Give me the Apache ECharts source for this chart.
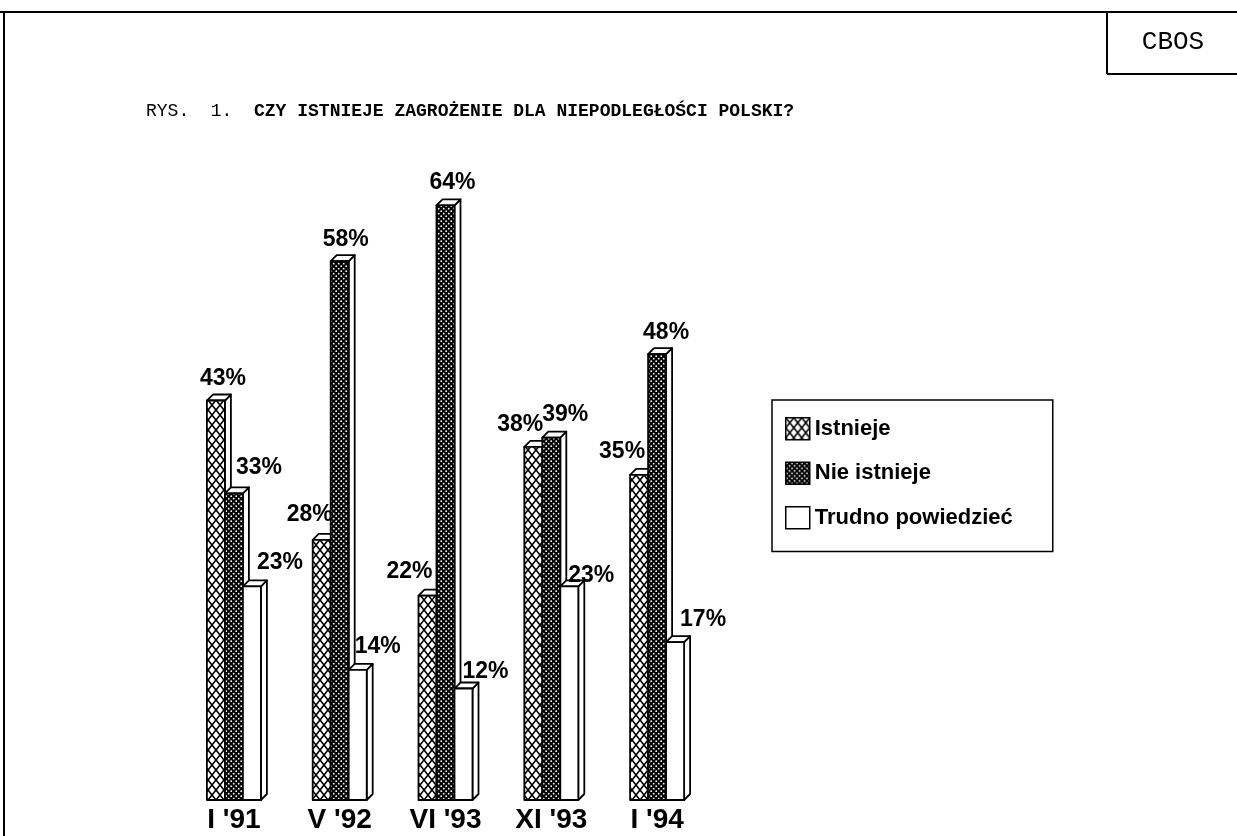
<!DOCTYPE html>
<html>
<head>
<meta charset="utf-8">
<title>Czy istnieje zagrożenie dla niepodległości Polski?</title>
<script src="https://cdn.jsdelivr.net/npm/echarts@6/dist/echarts.min.js"></script>
<style>
  html, body { margin: 0; padding: 0; background: #fff; }
  #chart { width: 1237px; height: 836px; }
</style>
</head>
<body>
<div id="chart"></div>
<script>
// data (percent)
const categories = ["I '91", "V '92", "VI '93", "XI '93", "I '94"];
const seriesNames = ["Istnieje", "Nie istnieje", "Trudno powiedzieć"];
const istnieje = [43, 28, 22, 38, 35];
const nieIstnieje = [33, 58, 64, 39, 48];
const trudno = [23, 14, 12, 23, 17];

const SANS = '"Liberation Sans", Arial, sans-serif';
const MONO = '"Liberation Mono", "Courier New", monospace';
const BAR_W = 18;
const DEPTH = 6;

// where each value label sits, relative to the front-top centre of its bar
const labelNudge = [
  [[7, -22], [-12, -25], [-18, -24], [-13, -22], [-17, -23]],
  [[25, -26], [6, -22], [7, -23], [14, -23], [9, -21]],
  [[28, -24], [20, -23], [22, -17], [22, -11], [28, -22]]
];

function makePattern(kind) {
  const c = document.createElement("canvas");
  const ctx = c.getContext("2d");
  if (kind === "cross") {
    c.width = 8; c.height = 10;
    ctx.fillStyle = "#fff";
    ctx.fillRect(0, 0, 8, 10);
    ctx.strokeStyle = "#000";
    ctx.lineWidth = 1.6;
    ctx.beginPath();
    ctx.moveTo(0, 0); ctx.lineTo(8, 10);
    ctx.moveTo(8, 0); ctx.lineTo(0, 10);
    ctx.stroke();
  } else if (kind === "dots") {
    c.width = 5; c.height = 5;
    ctx.fillStyle = "#000";
    ctx.fillRect(0, 0, 5, 5);
    ctx.fillStyle = "#fff";
    ctx.beginPath();
    ctx.arc(1.2, 1.2, 0.9, 0, Math.PI * 2);
    ctx.arc(3.7, 3.7, 0.9, 0, Math.PI * 2);
    ctx.fill();
  } else {
    c.width = 2; c.height = 2;
    ctx.fillStyle = "#fff";
    ctx.fillRect(0, 0, 2, 2);
  }
  return { image: c, repeat: "repeat" };
}

const fills = [makePattern("cross"), makePattern("dots"), "#fff"];

function barRenderer(s) {
  return function (params, api) {
    const v = api.value(1);
    const base = api.coord([api.value(0), 0]);
    const top = api.coord([api.value(0), v]);
    const x = base[0] - 27 + s * BAR_W;
    const y0 = base[1];
    const y1 = top[1];
    const edge = { stroke: "#000", lineWidth: 1.8, lineJoin: "round" };
    const nudge = labelNudge[s][params.dataIndex];
    return {
      type: "group",
      children: [
        {
          type: "polygon",
          shape: { points: [[x + BAR_W, y1], [x + BAR_W + DEPTH, y1 - DEPTH], [x + BAR_W + DEPTH, y0 - DEPTH], [x + BAR_W, y0]] },
          style: Object.assign({ fill: "#fff" }, edge)
        },
        {
          type: "polygon",
          shape: { points: [[x, y1], [x + DEPTH, y1 - DEPTH], [x + BAR_W + DEPTH, y1 - DEPTH], [x + BAR_W, y1]] },
          style: Object.assign({ fill: "#fff" }, edge)
        },
        {
          type: "rect",
          shape: { x: x, y: y1, width: BAR_W, height: y0 - y1 },
          style: Object.assign({ fill: fills[s] }, edge)
        },
        {
          type: "text",
          x: x + BAR_W / 2 + nudge[0],
          y: y1 + nudge[1],
          style: {
            text: v + "%",
            align: "center",
            verticalAlign: "middle",
            font: "bold 23px " + SANS,
            fill: "#000"
          }
        }
      ]
    };
  };
}

const values = [istnieje, nieIstnieje, trudno];

const chart = echarts.init(document.getElementById("chart"));
chart.setOption({
  backgroundColor: "#fff",
  animation: false,
  title: {
    text: "{n|RYS.  1.  }{b|CZY ISTNIEJE ZAGROŻENIE DLA NIEPODLEGŁOŚCI POLSKI?}",
    left: 146,
    top: 102,
    padding: 0,
    textStyle: {
      rich: {
        n: { fontFamily: MONO, fontSize: 18, fontWeight: "normal", color: "#000" },
        b: { fontFamily: MONO, fontSize: 18, fontWeight: "bold", color: "#000" }
      }
    }
  },
  legend: {
    data: seriesNames,
    orient: "vertical",
    left: 772,
    top: 400,
    icon: "rect",
    itemWidth: 24,
    itemHeight: 22,
    itemGap: 21,
    padding: [17, 40, 22, 13],
    borderColor: "#000",
    borderWidth: 1.5,
    selectedMode: false,
    itemStyle: { borderColor: "#000", borderWidth: 1.5 },
    textStyle: { fontFamily: SANS, fontWeight: "bold", fontSize: 22, color: "#000" }
  },
  grid: { left: 181, width: 529, top: 80, bottom: 36 },
  xAxis: {
    type: "category",
    data: categories,
    axisLine: { show: false },
    axisTick: { show: false },
    axisLabel: {
      margin: 6,
      fontFamily: SANS,
      fontWeight: "bold",
      fontSize: 28,
      color: "#000"
    }
  },
  yAxis: { type: "value", min: 0, max: 77.5, show: false },
  graphic: [
    { type: "line", shape: { x1: 0, y1: 12, x2: 1237, y2: 12 }, style: { stroke: "#000", lineWidth: 2 } },
    { type: "line", shape: { x1: 4, y1: 12, x2: 4, y2: 836 }, style: { stroke: "#000", lineWidth: 2 } },
    { type: "line", shape: { x1: 1107, y1: 12, x2: 1107, y2: 74 }, style: { stroke: "#000", lineWidth: 2 } },
    { type: "line", shape: { x1: 1107, y1: 74, x2: 1237, y2: 74 }, style: { stroke: "#000", lineWidth: 2 } },
    {
      type: "text",
      x: 1173,
      y: 42,
      style: { text: "CBOS", align: "center", verticalAlign: "middle", font: "26px " + MONO, fill: "#000" }
    }
  ],
  series: values.map(function (vals, s) {
    return {
      type: "custom",
      name: seriesNames[s],
      itemStyle: { color: fills[s], borderColor: "#000", borderWidth: 1.5 },
      renderItem: barRenderer(s),
      encode: { x: 0, y: 1 },
      data: vals.map(function (v, i) { return [i, v]; })
    };
  })
});
</script>
</body>
</html>
